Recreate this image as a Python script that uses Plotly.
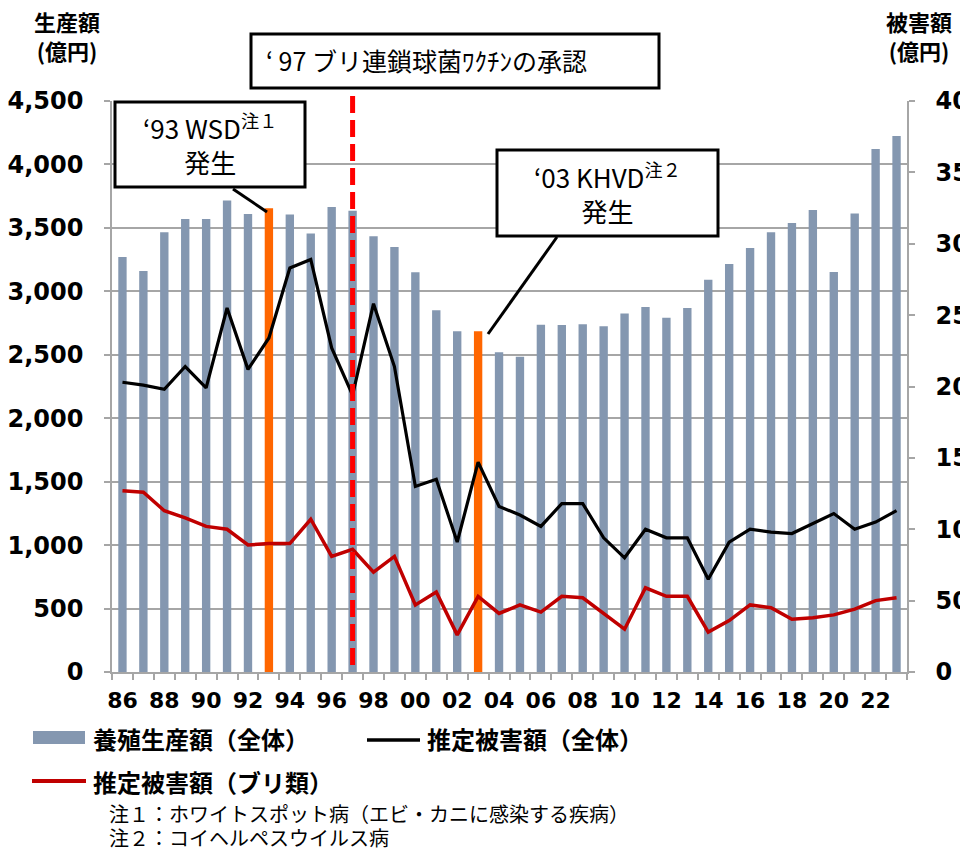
import plotly.graph_objects as go

# ---------------- data ----------------
years = list(range(1986, 2024))
production = [3270, 3160, 3465, 3570, 3570, 3715, 3610, 3655, 3605, 3455,
              3665, 3635, 3435, 3350, 3150, 2850, 2685, 2685, 2520, 2485,
              2737, 2735, 2740, 2725, 2826, 2876, 2792, 2868, 3092, 3215,
              3341, 3465, 3538, 3641, 3152, 3614, 4121, 4224]
damage_total = [203, 201, 198, 214, 199, 255, 212, 234, 283, 289,
                227, 194, 258, 214, 130, 135, 91, 147, 116, 110,
                102, 118, 118, 94, 80, 100, 94, 94, 65, 91,
                100, 98, 97, 104, 111, 100, 105, 113]
damage_yellowtail = [127, 126, 113, 108, 102, 100, 89, 90, 90, 107,
                     81, 86, 70, 81, 47, 56, 26, 53, 41, 47,
                     42, 53, 52, 41, 30, 59, 53, 53, 28, 36,
                     47, 45, 37, 38, 40, 44, 50, 52]
highlight_years = [1993, 2003]
vaccine_year = 1997
tick_years = [1986, 1988, 1990, 1992, 1994, 1996, 1998, 2000, 2002, 2004,
              2006, 2008, 2010, 2012, 2014, 2016, 2018, 2020, 2022]
tick_labels = ["86", "88", "90", "92", "94", "96", "98", "00", "02", "04",
               "06", "08", "10", "12", "14", "16", "18", "20", "22"]

# ---------------- styles ----------------
BAR = "#8497B0"
ORANGE = "#FF6600"
RED = "#C00000"
GRID = "#A6A6A6"
JP = "Noto Sans CJK JP"
NUM = "DejaVu Sans"

L, R, T, B = 112, 907, 101, 672
W, H = R - L, B - T


def xp(px):
    return (px - L) / W


def yp(py):
    return (B - py) / H


bar_colors = [ORANGE if y in highlight_years else BAR for y in years]

fig = go.Figure()
fig.add_trace(go.Bar(x=years, y=production, marker_color=bar_colors,
                     marker_line_width=0, width=0.4, name="養殖生産額（全体）",
                     showlegend=False))
fig.add_trace(go.Scatter(x=years, y=damage_total, yaxis="y2", mode="lines",
                         line=dict(color="black", width=3.2),
                         name="推定被害額（全体）", showlegend=False))
fig.add_trace(go.Scatter(x=years, y=damage_yellowtail, yaxis="y2", mode="lines",
                         line=dict(color=RED, width=3.5),
                         name="推定被害額（ブリ類）", showlegend=False))

shapes = []
annotations = []

# vaccine dashed line
shapes.append(dict(type="line", xref="x", yref="paper", x0=vaccine_year, x1=vaccine_year,
                   y0=yp(665), y1=yp(88), line=dict(color="#FF0000", width=5, dash="17px,7px"),
                   layer="above"))


def box(x0, y0, x1, y1):
    shapes.append(dict(type="rect", xref="paper", yref="paper", x0=xp(x0), x1=xp(x1),
                       y0=yp(y1), y1=yp(y0), line=dict(color="black", width=3),
                       fillcolor="white", layer="above"))


def seg(x0, y0, x1, y1, color="black", width=3):
    shapes.append(dict(type="line", xref="paper", yref="paper", x0=xp(x0), x1=xp(x1),
                       y0=yp(y0), y1=yp(y1), line=dict(color=color, width=width),
                       layer="above"))


def text(x, y, s, size, bold=False, xanchor="center", color="black", family=JP):
    annotations.append(dict(xref="paper", yref="paper", x=xp(x), y=yp(y), text=s,
                            showarrow=False, xanchor=xanchor, yanchor="middle",
                            align="center" if xanchor == "center" else "left",
                            font=dict(family=family, size=size, color=color,
                                      weight="bold" if bold else "normal")))


# '97 box
box(251, 34, 659, 88)
text(264, 60, "‘ 97 ブリ連鎖球菌ﾜｸﾁﾝの承認", 25, xanchor="left")

# '93 box
box(115, 102, 305, 187)
seg(233, 189, 267, 212)
text(210, 143, "‘93 WSD<sup>注１</sup><br>発生", 26)

# '03 box
box(497, 150, 718, 236)
seg(557, 237, 488, 334)
text(607, 192, "‘03 KHVD<sup>注２</sup><br>発生", 26)

# axis titles
text(67, 36, "生産額<br>(億円)", 22, bold=True)
text(919, 36, "被害額<br>(億円)", 22, bold=True)

# legend
shapes.append(dict(type="rect", xref="paper", yref="paper", x0=xp(33), x1=xp(85),
                   y0=yp(744), y1=yp(731), line=dict(width=0), fillcolor=BAR))
text(91, 738, "養殖生産額（全体）", 24, bold=True, xanchor="left")
seg(367, 740, 420, 740, "black", 3.5)
text(425, 738, "推定被害額（全体）", 24, bold=True, xanchor="left")
seg(32, 781, 86, 781, RED, 4)
text(91, 781, "推定被害額（ブリ類）", 24, bold=True, xanchor="left")

# notes
text(107, 813, "注１：ホワイトスポット病（エビ・カニに感染する疾病）", 20, xanchor="left")
text(107, 838, "注２：コイヘルペスウイルス病", 20, xanchor="left")

fig.update_layout(
    width=960, height=848,
    margin=dict(l=L, r=960 - R, t=T, b=848 - B, autoexpand=False),
    paper_bgcolor="white", plot_bgcolor="white",
    showlegend=False,
    bargap=0.6,
    shapes=shapes,
    annotations=annotations,
    xaxis=dict(range=[1985.5, 2023.5], tickmode="array", tickvals=tick_years,
               ticktext=tick_labels, ticks="", showgrid=False, zeroline=False,
               showline=True, linecolor=GRID, linewidth=1.5,
               tickfont=dict(family=NUM, size=22, color="black", weight="bold"),
               ticklabelstandoff=8,
               minor=dict(tickmode="linear", tick0=1985.5, dtick=1, ticks="outside",
                          ticklen=6, tickcolor=GRID, tickwidth=1.5, showgrid=False)),
    yaxis=dict(range=[0, 4500], dtick=500, tickformat=",d", showgrid=True,
               gridcolor=GRID, gridwidth=1.5, zeroline=False,
               showline=True, linecolor=GRID, linewidth=1.5,
               ticks="outside", ticklen=6, tickcolor=GRID, tickwidth=1.5,
               ticklabelstandoff=16,
               tickfont=dict(family=NUM, size=24, color="black", weight="bold")),
    yaxis2=dict(range=[0, 400], dtick=50, overlaying="y", side="right",
                showgrid=False, zeroline=False,
                showline=True, linecolor=GRID, linewidth=1.5,
                ticks="outside", ticklen=6, tickcolor=GRID, tickwidth=1.5,
                ticklabelstandoff=16,
                tickfont=dict(family=NUM, size=24, color="black", weight="bold")),
)

fig.write_html("out.html", config={"displayModeBar": False},
               post_script="document.body.style.margin='0';")
